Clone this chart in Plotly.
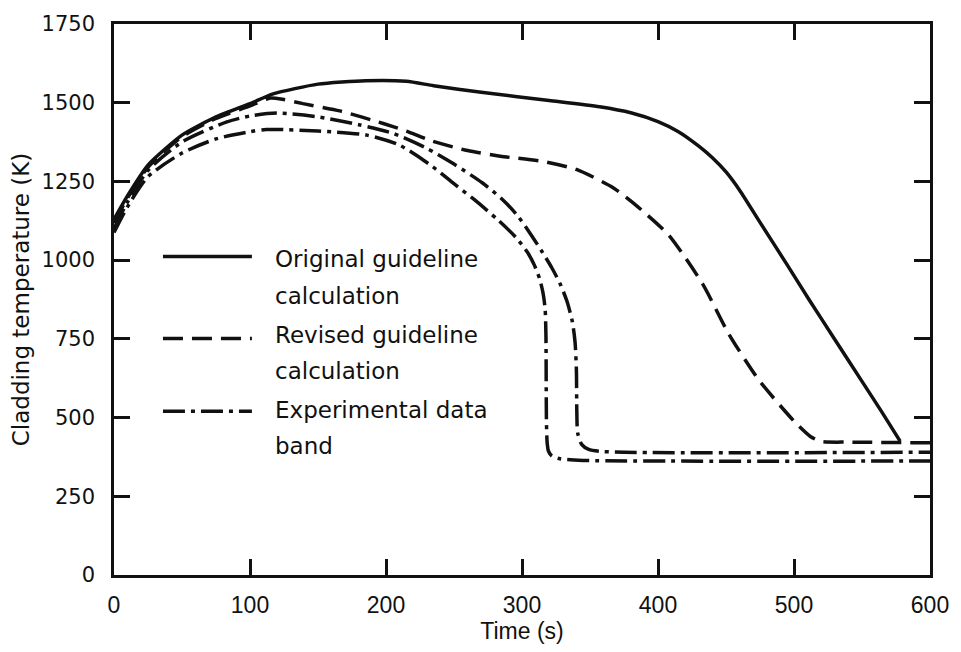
import plotly.graph_objects as go

# ---- data ----
orig_t = [0, 10, 25, 50, 75, 100, 117, 150, 185, 215, 235, 270, 320, 357, 380, 400,
          415, 430, 440, 450, 460, 475, 495, 511, 530, 550, 565, 578]
orig_T = [1130, 1205, 1302, 1397, 1455, 1497, 1528, 1559, 1570, 1568, 1554, 1533, 1507,
          1487, 1468, 1440, 1408, 1362, 1325, 1280, 1222, 1120, 985, 875, 748, 615, 515, 425]

rev_t = [0, 10, 25, 50, 75, 100, 115, 125, 139, 166, 198, 215, 234, 260, 284, 315, 340,
         367, 385, 408, 433, 452, 474, 501, 512, 520, 540, 600]
rev_T = [1118, 1198, 1295, 1392, 1450, 1490, 1515, 1510, 1497, 1474, 1434, 1410, 1378,
         1348, 1330, 1314, 1288, 1230, 1170, 1079, 923, 766, 620, 484, 440, 424, 422, 420]

band_hi_t = [0, 10, 25, 50, 83, 100, 120, 150, 180, 205, 230, 250, 271, 285, 296, 306,
             315, 322, 328, 333, 337, 339, 340, 340.3, 341, 344, 349, 360, 600]
band_hi_T = [1100, 1185, 1285, 1375, 1439, 1458, 1467, 1455, 1430, 1403, 1355, 1305, 1245,
             1195, 1145, 1085, 1025, 975, 925, 870, 805, 740, 650, 520, 450, 414, 399, 392, 390]

band_lo_t = [0, 10, 25, 50, 75, 100, 112, 150, 186, 210, 234, 249, 265, 283, 296, 304,
             309, 313, 315.5, 317, 317.6, 317.8, 318, 318.5, 319.5, 322, 328, 345, 600]
band_lo_T = [1088, 1170, 1265, 1340, 1385, 1408, 1415, 1410, 1397, 1365, 1298, 1246, 1192,
             1125, 1070, 1025, 985, 940, 895, 845, 760, 600, 480, 420, 393, 378, 369, 364, 362]

x_ticks = [0, 100, 200, 300, 400, 500, 600]
y_ticks = [0, 250, 500, 750, 1000, 1250, 1500, 1750]

legend_labels = [("Original guideline", "calculation"),
                 ("Revised guideline", "calculation"),
                 ("Experimental data", "band")]

# ---- styles ----
BLACK = "#111111"
SOLID = "solid"
DASH = "20px,9px"
DASHDOT = "22px,6px,4px,6px"
LW = 3.5

fig = go.Figure()
fig.add_trace(go.Scatter(x=orig_t, y=orig_T, mode="lines", name="Original guideline calculation",
                         line=dict(color=BLACK, width=LW, dash=SOLID, shape="spline", smoothing=0.6),
                         showlegend=False))
fig.add_trace(go.Scatter(x=rev_t, y=rev_T, mode="lines", name="Revised guideline calculation",
                         line=dict(color=BLACK, width=LW, dash=DASH, shape="spline", smoothing=0.6),
                         showlegend=False))
fig.add_trace(go.Scatter(x=band_hi_t, y=band_hi_T, mode="lines", name="Experimental data band",
                         line=dict(color=BLACK, width=LW, dash=DASHDOT, shape="spline", smoothing=0.7),
                         showlegend=False))
fig.add_trace(go.Scatter(x=band_lo_t, y=band_lo_T, mode="lines", name="Experimental data band",
                         line=dict(color=BLACK, width=LW, dash=DASHDOT, shape="spline", smoothing=0.7),
                         showlegend=False))

# ---- hand-built legend (samples + text) in paper coordinates ----
sample_styles = [SOLID, DASH, DASHDOT]
sample_y = [0.578, 0.429, 0.297]
text_y = [(0.574, 0.506), (0.436, 0.370), (0.300, 0.234)]
for style, sy, (l1, l2), (ty1, ty2) in zip(sample_styles, sample_y, legend_labels, text_y):
    fig.add_shape(type="line", xref="paper", yref="paper", x0=0.060, x1=0.169, y0=sy, y1=sy,
                  line=dict(color=BLACK, width=LW, dash=style))
    for txt, ty in ((l1, ty1), (l2, ty2)):
        fig.add_annotation(xref="paper", yref="paper", x=0.1946, y=ty, text=txt,
                           showarrow=False, xanchor="left", yanchor="middle",
                           font=dict(family="DejaVu Sans", size=23, color=BLACK))

axis_common = dict(showline=True, linecolor=BLACK, linewidth=2.5, mirror="ticks",
                   ticks="inside", ticklen=16, tickwidth=2.5, tickcolor=BLACK,
                   showgrid=False, zeroline=False)

fig.update_xaxes(range=[0, 600], tickvals=x_ticks, ticktext=[str(v) for v in x_ticks],
                 tickfont=dict(family="Liberation Sans Narrow, Liberation Sans", size=23, color=BLACK),
                 ticklabelstandoff=8,
                 title=dict(text="Time (s)", standoff=6,
                            font=dict(family="Liberation Sans Narrow, Liberation Sans", size=23, color=BLACK)),
                 **axis_common)
fig.update_yaxes(range=[0, 1750], tickvals=y_ticks, ticktext=[str(v) for v in y_ticks],
                 tickfont=dict(family="DejaVu Sans", size=21, color=BLACK),
                 ticklabelstandoff=12,
                 title=dict(text="Cladding temperature (K)", standoff=6,
                            font=dict(family="DejaVu Sans", size=23, color=BLACK)),
                 **axis_common)

fig.update_layout(width=961, height=652, margin=dict(l=114, r=30, t=19, b=74),
                  paper_bgcolor="white", plot_bgcolor="white", showlegend=False)

fig.write_html("out.html", config={"displayModeBar": False},
               post_script="document.body.style.margin='0';document.body.style.overflow='hidden';")
